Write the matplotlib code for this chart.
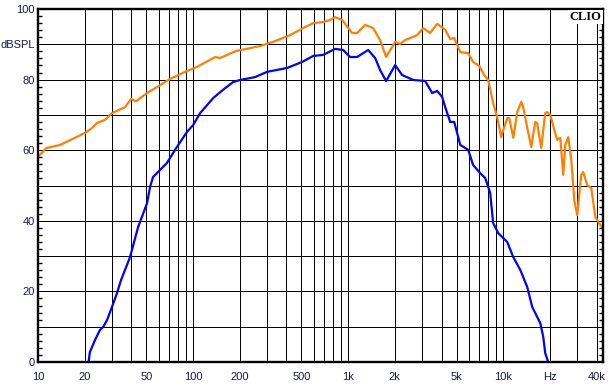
import matplotlib
matplotlib.use("Agg")
import matplotlib.pyplot as plt
from matplotlib.ticker import FixedLocator, FixedFormatter, MultipleLocator, NullFormatter

# ---------------- data ----------------
orange_freq = [10, 11.3, 13.9, 20.1, 22.3, 24.0, 27.1, 30.0, 36.4, 39.8, 42.9, 50.5, 58.6, 71.1,
               88.8, 106, 139, 149, 189, 271, 338, 422, 528, 595, 690, 765, 824, 915, 1061,
               1143, 1288, 1449, 1607, 1758, 2010, 2163, 2333, 2786, 3048, 3381, 3750, 4227,
               4550, 4831, 5284, 5943, 6397, 6998, 7536, 7998, 8610, 9141, 9705, 10000, 10620,
               10940, 11610, 12310, 13070, 13460, 14290, 15170, 16080, 16560, 17580, 18660,
               19230, 20100, 21630, 22290, 23330, 24380, 25120, 26250, 27480, 28710, 30000,
               31840, 32810, 34830, 36980, 39260, 42270, 44000]
orange_db = [58.1, 60.6, 61.5, 64.9, 66.3, 67.7, 68.6, 70.5, 72.2, 74.5, 73.9, 76.2, 77.9, 80.2,
             82.2, 83.6, 86.4, 86.1, 88.1, 89.5, 90.9, 92.6, 94.9, 96.0, 96.3, 96.9, 97.7, 96.9,
             93.2, 93.2, 95.5, 94.6, 91.2, 86.4, 90.7, 90.1, 91.2, 92.6, 94.6, 93.2, 95.8, 94.1,
             91.5, 91.8, 87.8, 87.5, 85.0, 83.9, 81.3, 79.9, 73.4, 69.4, 63.7, 65.7, 69.1,
             69.1, 63.5, 70.8, 73.7, 72.2, 66.3, 60.9, 68.0, 67.7, 60.6, 70.5,
             70.8, 70.0, 64.9, 62.9, 63.5, 53.0, 61.5, 63.7, 57.2, 45.9, 41.6,
             53.0, 53.8, 50.1, 49.3, 41.1, 38.8, 38.0]

blue_freq = [21.2, 21.6, 23.3, 25.1, 26.3, 27.9, 30.0, 32.3, 34.3, 39.2, 44.2, 50.5, 52.8, 55.2,
             61.2, 67.9, 76.5, 91.4, 100, 111, 135, 156, 181, 201, 251, 300, 404, 505, 595,
             690, 824, 929, 1030, 1143, 1346, 1494, 1607, 1758, 2010, 2229, 2626, 3139, 3483,
             3750, 4038, 4227, 4550, 4831, 5284, 5943, 6397, 7106, 7656, 8241, 8610, 9289,
             10620, 11610, 12880, 14290, 15380, 17340, 18120, 18660, 19500]
blue_db = [0, 2.8, 6.2, 9.1, 9.9, 11.9, 15.6, 19.5, 23.2, 29.7, 38.2, 45.0, 49.6, 52.4,
           54.4, 56.4, 60.1, 65.2, 67.1, 70.5, 74.8, 77.1, 79.3, 79.9, 80.7, 82.2, 83.3, 85.0, 86.7,
           87.0, 88.7, 88.4, 86.4, 86.4, 88.4, 86.1, 82.7, 79.6, 84.1, 81.3, 79.9, 79.6, 76.2,
           76.8, 75.1, 72.2, 68.0, 68.0, 61.5, 60.1, 55.8, 53.5, 52.1, 47.9, 39.4, 36.5,
           34.0, 29.7, 26.1, 21.2, 15.6, 11.0, 7.1, 2.5, 0]

x_grid = [20, 30, 40, 50, 60, 70, 80, 90, 100, 200, 300, 400, 500, 600, 700, 800, 900,
          1000, 2000, 3000, 4000, 5000, 6000, 7000, 8000, 9000, 10000, 20000, 30000, 40000]
x_label_pos = [10, 20, 50, 100, 200, 500, 1000, 2000, 5000, 10000, 20000, 40000]
x_label_txt = ["10", "20", "50", "100", "200", "500", "1k", "2k", "5k", "10k", "Hz", "40k"]
y_ticks = [0, 10, 20, 30, 40, 50, 60, 70, 80, 90, 100]
y_labels = ["0", "", "20", "", "40", "", "60", "", "80", "dBSPL", "100"]

# ---------------- figure ----------------
plt.rcParams['font.family'] = ['Liberation Sans', 'DejaVu Sans']
fig = plt.figure(figsize=(6.11, 3.88), dpi=100)
ax = fig.add_axes([38/611, 26/388, 565/611, 353/388])
ax.set_xscale('log')
ax.set_xlim(10, 44000)
ax.set_ylim(0, 100)

label_color = '#181850'

for xv in x_grid:
    ax.axvline(xv, color='black', lw=0.72, zorder=1, antialiased=False)
for yv in y_ticks[1:-1]:
    ax.axhline(yv, color='black', lw=0.72, zorder=1, antialiased=False)

ax.plot(blue_freq, blue_db, color='#0000FF', lw=1.6, zorder=3, clip_on=True)
ax.plot(orange_freq, orange_db, color='#FF8000', lw=1.6, zorder=3, clip_on=True)

# x ticks (labels only)
ax.xaxis.set_major_locator(FixedLocator(x_label_pos))
ax.xaxis.set_major_formatter(FixedFormatter(x_label_txt))
ax.xaxis.set_minor_locator(FixedLocator([]))
ax.xaxis.set_minor_formatter(NullFormatter())
ax.tick_params(axis='x', which='major', length=0, pad=7, labelsize=8, labelcolor=label_color)

# y ticks
ax.yaxis.set_major_locator(FixedLocator(y_ticks))
ax.yaxis.set_major_formatter(FixedFormatter(y_labels))
ax.yaxis.set_minor_locator(MultipleLocator(2))
ax.tick_params(axis='y', which='major', length=0, pad=2.5, labelsize=8, labelcolor=label_color)
ax.tick_params(axis='y', which='minor', direction='in', length=3, width=1.0,
               left=True, right=True, color='black')

for s in ax.spines.values():
    s.set_linewidth(1.7)
    s.set_color('black')
    s.set_zorder(5)

ax.text(0.997, 0.994, "CLIO", transform=ax.transAxes, ha='right', va='top',
        fontsize=9, fontweight='bold', family=['Liberation Serif', 'DejaVu Serif'],
        color='black', zorder=6,
        bbox=dict(facecolor='white', edgecolor='none', pad=1.0))

fig.savefig("out.png", dpi=100, facecolor='white')
